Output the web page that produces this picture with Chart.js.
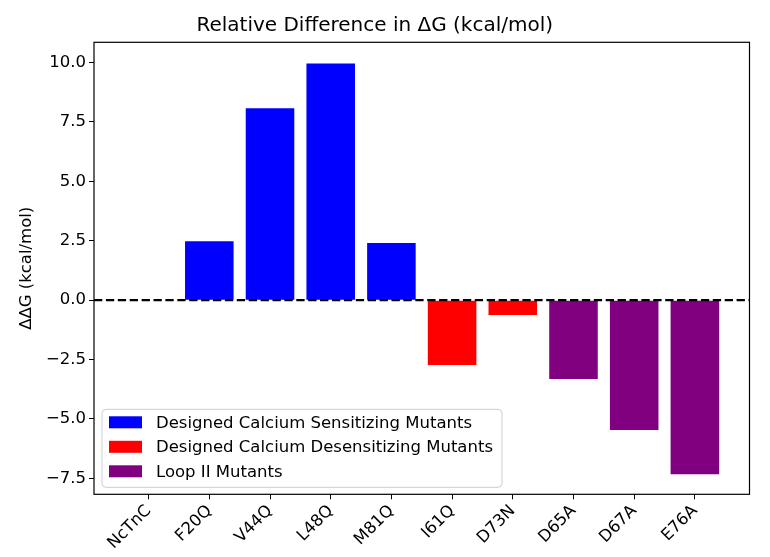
<!DOCTYPE html>
<html>
<head>
<meta charset="utf-8">
<script src="https://cdn.jsdelivr.net/npm/chart.js@4.4.1/dist/chart.umd.min.js"></script>
<style>
  body { margin: 0; background: #fff; }
  #wrap { width: 770px; height: 557px; }
</style>
</head>
<body>
<div id="wrap"><canvas id="myChart" width="770" height="557"></canvas></div>
<script>
// mutants along the x axis
var categories = ['NcTnC', 'F20Q', 'V44Q', 'L48Q', 'M81Q', 'I61Q', 'D73N', 'D65A', 'D67A', 'E76A'];
// relative difference in dG (kcal/mol)
var deltaG = [0, 2.48, 8.07, 9.96, 2.40, -2.73, -0.63, -3.32, -5.46, -7.33];
// which group each mutant belongs to
var groups = [0, 0, 0, 0, 0, 1, 1, 2, 2, 2];
var groupNames = ['Designed Calcium Sensitizing Mutants', 'Designed Calcium Desensitizing Mutants', 'Loop II Mutants'];
var groupColors = ['#0000ff', '#ff0000', '#800080'];
var yTicks = [-7.5, -5, -2.5, 0, 2.5, 5, 7.5, 10];

var font = "'DejaVu Sans', sans-serif";

var datasets = groupNames.map(function (name, g) {
    var pts = [];
    categories.forEach(function (c, i) {
        if (groups[i] === g) pts.push({ x: i, y: deltaG[i] });
    });
    return {
        label: name,
        data: pts,
        backgroundColor: groupColors[g],
        borderWidth: 0,
        barPercentage: 1,
        categoryPercentage: 0.8,
        grouped: false
    };
});

// black frame + dashed zero line
var framePlugin = {
    id: 'frame',
    afterDatasetsDraw: function (chart) {
        var ctx = chart.ctx, a = chart.chartArea;
        var y0 = chart.scales.y.getPixelForValue(0);
        ctx.save();
        ctx.strokeStyle = '#000';
        ctx.lineWidth = 2.2;
        ctx.setLineDash([8.3, 3.6]);
        ctx.beginPath();
        ctx.moveTo(a.left, y0);
        ctx.lineTo(a.right, y0);
        ctx.stroke();
        ctx.setLineDash([]);
        ctx.lineWidth = 1.2;
        ctx.strokeRect(a.left, a.top, a.right - a.left, a.bottom - a.top);
        ctx.restore();
    }
};

// legend inside the plot, lower left
var legendPlugin = {
    id: 'insideLegend',
    afterDraw: function (chart) {
        var ctx = chart.ctx, a = chart.chartArea;
        ctx.save();
        ctx.font = '16.5px ' + font;
        var maxW = 0;
        chart.data.datasets.forEach(function (ds) {
            maxW = Math.max(maxW, ctx.measureText(ds.label).width);
        });
        var rowH = 24.5;
        var w = 54 + maxW + 9, h = 78;
        var x = a.left + 8, y = a.bottom - 7 - h;
        ctx.fillStyle = 'rgba(255,255,255,0.8)';
        ctx.strokeStyle = '#cccccc';
        ctx.lineWidth = 1;
        ctx.beginPath();
        ctx.roundRect(x, y, w, h, 4);
        ctx.fill();
        ctx.stroke();
        chart.data.datasets.forEach(function (ds, i) {
            var cy = y + 13 + i * rowH;
            ctx.fillStyle = ds.backgroundColor;
            ctx.fillRect(x + 7, cy - 6, 33, 12);
            ctx.fillStyle = '#000';
            ctx.textBaseline = 'middle';
            ctx.textAlign = 'left';
            ctx.fillText(ds.label, x + 54, cy + 1);
        });
        ctx.restore();
    }
};

var ctx = document.getElementById('myChart').getContext('2d');
new Chart(ctx, {
    type: 'bar',
    data: { datasets: datasets },
    options: {
        responsive: false,
        animation: false,
        layout: { padding: { left: 0, right: 20.5, top: 0, bottom: 0 } },
        plugins: {
            legend: { display: false },
            tooltip: { enabled: false },
            title: {
                display: true,
                text: 'Relative Difference in \u0394G (kcal/mol)',
                color: '#000',
                font: { family: font, size: 20, weight: 'normal' },
                padding: { top: 14, bottom: 4.3 }
            }
        },
        scales: {
            x: {
                type: 'linear',
                min: -0.9,
                max: 9.9,
                offset: false,
                afterBuildTicks: function (scale) {
                    scale.ticks = categories.map(function (c, i) { return { value: i }; });
                },
                afterFit: function (scale) { scale.height = 62.7; },
                ticks: {
                    color: '#000',
                    font: { family: font, size: 16.5 },
                    maxRotation: 45,
                    minRotation: 45,
                    padding: 2,
                    autoSkip: false,
                    callback: function (v) { return categories[v]; }
                },
                grid: { display: true, drawOnChartArea: false, drawTicks: true, tickLength: 5, color: '#000', offset: false },
                border: { display: false }
            },
            y: {
                min: -8.17,
                max: 10.85,
                afterBuildTicks: function (scale) {
                    scale.ticks = yTicks.map(function (v) { return { value: v }; });
                },
                afterFit: function (scale) { scale.width = 94; },
                ticks: {
                    color: '#000',
                    font: { family: font, size: 16.5 },
                    padding: 3,
                    callback: function (v) { return v.toFixed(1).replace('-', '\u2212'); }
                },
                grid: { display: true, drawOnChartArea: false, drawTicks: true, tickLength: 5, color: '#000' },
                border: { display: false },
                title: {
                    display: true,
                    text: '\u0394\u0394G (kcal/mol)',
                    color: '#000',
                    font: { family: font, size: 16.5 },
                    padding: { top: 17, bottom: 0 }
                }
            }
        }
    },
    plugins: [framePlugin, legendPlugin]
});
</script>
</body>
</html>
